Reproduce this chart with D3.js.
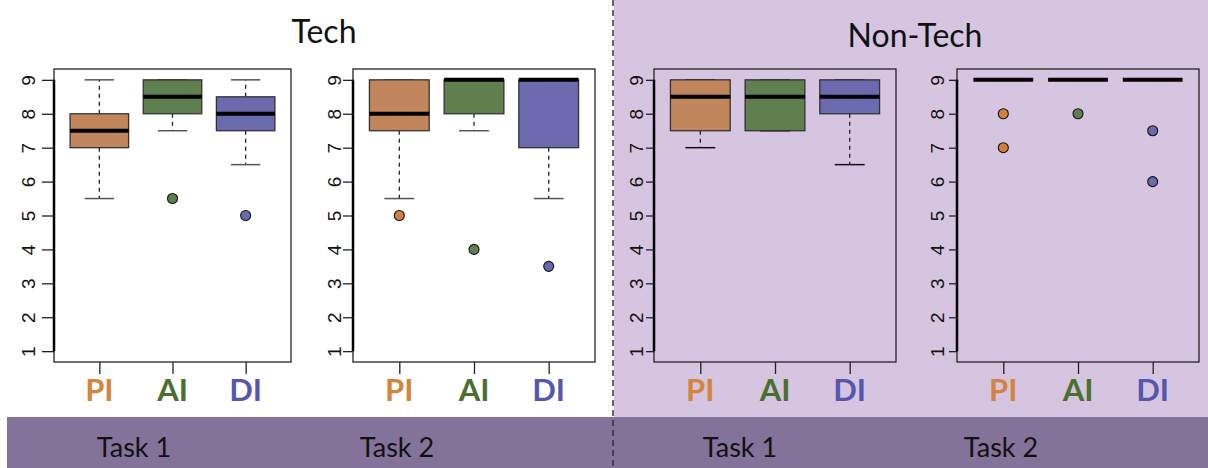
<!DOCTYPE html>
<html>
<head>
<meta charset="utf-8">
<script src="https://cdn.jsdelivr.net/npm/d3@7"></script>
<style>
  html, body { margin: 0; padding: 0; background: #fff; }
  svg { display: block; }
</style>
</head>
<body>
<svg id="chart" width="1208" height="468"></svg>
<script>
// ---- data ---------------------------------------------------------------
const categories = ["PI", "AI", "DI"];
const groupTitles = ["Tech", "Non-Tech"];
const taskLabels = ["Task 1", "Task 2", "Task 1", "Task 2"];
const yTicks = [1, 2, 3, 4, 5, 6, 7, 8, 9];

// five-number summaries per category: [lower whisker, Q1, median, Q3, upper whisker]
const techTask1Stats = [[5.5, 7, 7.5, 8, 9], [7.5, 8, 8.5, 9, 9], [6.5, 7.5, 8, 8.5, 9]];
const techTask1Outliers = [[], [5.5], [5]];

const techTask2Stats = [[5.5, 7.5, 8, 9, 9], [7.5, 8, 9, 9, 9], [5.5, 7, 9, 9, 9]];
const techTask2Outliers = [[5], [4], [3.5]];

const nonTechTask1Stats = [[7, 7.5, 8.5, 9, 9], [7.5, 7.5, 8.5, 9, 9], [6.5, 8, 8.5, 9, 9]];
const nonTechTask1Outliers = [[], [], []];

const nonTechTask2Stats = [[9, 9, 9, 9, 9], [9, 9, 9, 9, 9], [9, 9, 9, 9, 9]];
const nonTechTask2Outliers = [[8, 7], [8], [7.5, 6]];

// ---- styling --------------------------------------------------------------
const boxFill = ["#c0855b", "#5f7f4e", "#6c6aae"];
const pointFill = ["#cf7f3e", "#5f7f4e", "#6c6aae"];
const labelColor = ["#d4843f", "#4b6f31", "#5656ae"];

const W = 1208, H = 468;
const plotTop = 69, plotBottom = 362;
const panels = [
  { stats: techTask1Stats, outliers: techTask1Outliers, x0: 54, w: 237, tick: 12, lab: 26, cap: "#555" },
  { stats: techTask2Stats, outliers: techTask2Outliers, x0: 353, w: 242, tick: 10, lab: 19, cap: "#555" },
  { stats: nonTechTask1Stats, outliers: nonTechTask1Outliers, x0: 654, w: 242, tick: 8, lab: 18, cap: "#111" },
  { stats: nonTechTask2Stats, outliers: nonTechTask2Outliers, x0: 957, w: 242, tick: 8, lab: 20, cap: "#111" }
];

const svg = d3.select("#chart");

// backgrounds
svg.append("rect").attr("x", 0).attr("y", 0).attr("width", W).attr("height", H).attr("fill", "#ffffff");
svg.append("rect").attr("x", 614).attr("y", 0).attr("width", W - 614).attr("height", 417).attr("fill", "#d5c5e0");
svg.append("rect").attr("x", 7).attr("y", 417).attr("width", W - 7).attr("height", H - 417).attr("fill", "#83729a");

// dashed divider between groups
svg.append("line")
  .attr("x1", 613).attr("x2", 613).attr("y1", 0).attr("y2", H)
  .attr("stroke", "#333").attr("stroke-width", 1.5).attr("stroke-dasharray", "6,4");

// group titles
svg.append("text").attr("x", 324).attr("y", 43).attr("text-anchor", "middle")
  .attr("font-family", "Lato, 'Open Sans', sans-serif").attr("font-size", 32).attr("fill", "#111")
  .text(groupTitles[0]);
svg.append("text").attr("x", 915).attr("y", 47).attr("text-anchor", "middle")
  .attr("font-family", "Lato, 'Open Sans', sans-serif").attr("font-size", 32).attr("fill", "#111")
  .text(groupTitles[1]);

// task labels in the bottom band
const taskX = [134, 397, 740, 1001];
taskLabels.forEach((t, i) => {
  svg.append("text").attr("x", taskX[i]).attr("y", 457).attr("text-anchor", "middle")
    .attr("font-family", "Lato, 'Open Sans', sans-serif").attr("font-size", 27).attr("fill", "#111")
    .text(t);
});

const y = d3.scaleLinear().domain([0.68, 9.32]).range([plotBottom, plotTop]);

panels.forEach(p => {
  const g = svg.append("g");
  const x = d3.scaleLinear().domain([0.38, 3.62]).range([p.x0, p.x0 + p.w]);
  const unit = x(2) - x(1);
  const boxW = unit * 0.8;
  const capW = boxW * 0.5;

  // plot frame
  g.append("rect")
    .attr("x", p.x0).attr("y", plotTop)
    .attr("width", p.w).attr("height", plotBottom - plotTop)
    .attr("fill", "none").attr("stroke", "#222").attr("stroke-width", 1.3);

  // y axis
  const ya = g.append("g").attr("transform", `translate(${p.x0},0)`)
    .call(d3.axisLeft(y).tickValues(yTicks).tickSize(p.tick).tickSizeOuter(0));
  ya.select(".domain").attr("stroke", "#000").attr("stroke-width", 2.5)
    .attr("d", `M0,${y(1)}V${y(9)}`);
  ya.selectAll(".tick line").attr("stroke", "#222").attr("stroke-width", 1.3);
  ya.selectAll(".tick text")
    .attr("x", 0).attr("y", 0).attr("dy", null)
    .attr("transform", `translate(${-p.lab},0) rotate(-90)`)
    .attr("text-anchor", "middle").attr("dominant-baseline", "central")
    .attr("font-family", "'Liberation Sans', Arial, sans-serif").attr("font-size", 19)
    .attr("fill", "#111");

  // x axis ticks and category labels
  const xa = g.append("g").attr("transform", `translate(0,${plotBottom})`)
    .call(d3.axisBottom(x).tickValues([1, 2, 3]).tickSize(12).tickSizeOuter(0).tickFormat(""));
  xa.select(".domain").remove();
  xa.selectAll(".tick line").attr("stroke", "#222").attr("stroke-width", 1.3);

  categories.forEach((c, i) => {
    g.append("text").attr("x", x(i + 1)).attr("y", 401).attr("text-anchor", "middle")
      .attr("font-family", "Lato, 'Open Sans', sans-serif").attr("font-weight", 700)
      .attr("font-size", 31).attr("fill", labelColor[i]).text(c);
  });

  // boxes
  p.stats.forEach((s, i) => {
    const cx = x(i + 1);
    const [lo, q1, med, q3, hi] = s;
    // whiskers
    if (lo < q1) {
      g.append("line").attr("x1", cx).attr("x2", cx).attr("y1", y(q1)).attr("y2", y(lo))
        .attr("stroke", "#222").attr("stroke-width", 1.3).attr("stroke-dasharray", "4,4");
    }
    if (hi > q3) {
      g.append("line").attr("x1", cx).attr("x2", cx).attr("y1", y(q3)).attr("y2", y(hi))
        .attr("stroke", "#222").attr("stroke-width", 1.3).attr("stroke-dasharray", "4,4");
    }
    // whisker caps
    [lo, hi].forEach(v => {
      g.append("line").attr("x1", cx - capW / 2).attr("x2", cx + capW / 2)
        .attr("y1", y(v)).attr("y2", y(v))
        .attr("stroke", p.cap).attr("stroke-width", 1.5);
    });
    // box
    if (q3 > q1) {
      g.append("rect").attr("x", cx - boxW / 2).attr("y", y(q3))
        .attr("width", boxW).attr("height", y(q1) - y(q3))
        .attr("fill", boxFill[i]).attr("stroke", "#333").attr("stroke-width", 1.3);
    }
    // median
    g.append("line").attr("x1", cx - boxW / 2).attr("x2", cx + boxW / 2)
      .attr("y1", y(med)).attr("y2", y(med))
      .attr("stroke", "#000").attr("stroke-width", 4);
  });

  // outliers
  p.outliers.forEach((arr, i) => {
    arr.forEach(v => {
      g.append("circle").attr("cx", x(i + 1)).attr("cy", y(v)).attr("r", 5)
        .attr("fill", pointFill[i]).attr("stroke", "#111").attr("stroke-width", 1.1);
    });
  });
});
</script>
</body>
</html>
